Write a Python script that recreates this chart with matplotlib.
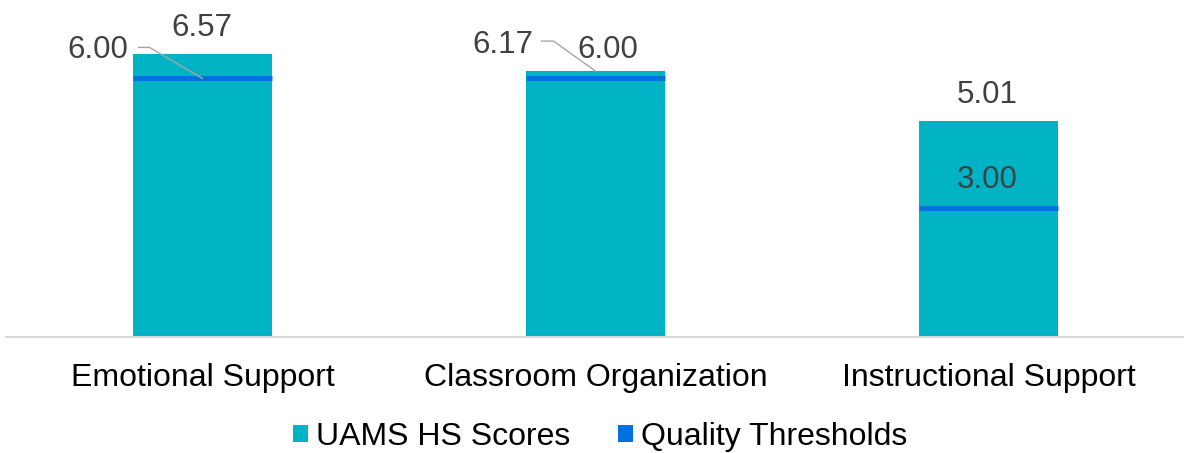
import matplotlib
matplotlib.use("Agg")
import matplotlib.pyplot as plt
from matplotlib.patches import Patch
import numpy as np

plt.rcParams['font.family'] = ['Liberation Sans', 'DejaVu Sans']

categories = ["Emotional Support", "Classroom Organization", "Instructional Support"]
scores = [6.57, 6.17, 5.01]
thresholds = [6.00, 6.00, 3.00]
series_names = ["UAMS HS Scores", "Quality Thresholds"]

BAR_COLOR = "#00B3C4"
LINE_COLOR = "#0070E0"
NUM_COLOR = "#404040"

W, H, DPI = 1184, 453, 100
fig = plt.figure(figsize=(W / DPI, H / DPI), dpi=DPI)
ax = fig.add_axes([6 / W, 1 - 337 / H, (1185 - 6) / W, 337 / H])

x = np.arange(len(categories))
bw = 0.354
ax.bar(x, scores, width=bw, color=BAR_COLOR, zorder=2)
ax.hlines(thresholds, x - bw / 2, x + bw / 2, colors=LINE_COLOR, linewidth=3.6, zorder=3)

ax.set_xlim(-0.5, len(categories) - 0.5)
ax.set_ylim(0, 7.82)
ax.set_yticks([])
ax.set_xticks(x)
ax.set_xticklabels(categories, fontsize=23, color="black")
ax.tick_params(axis='x', length=0, pad=19)
for s in ["top", "right", "left"]:
    ax.spines[s].set_visible(False)
ax.spines["bottom"].set_color("#D9D9D9")
ax.spines["bottom"].set_linewidth(1.5)

fig.canvas.draw()

def label(xv, yv, text, dx, dy=18):
    ax.annotate(text, xy=(xv, yv), xytext=(dx, dy), textcoords='offset pixels',
                ha='center', va='baseline', fontsize=22.5, color=NUM_COLOR, zorder=5)

def leader(xv, yv, offs):
    base = ax.transData.transform((xv, yv))
    pts = np.array([base + np.array(o) for o in offs])
    dpts = ax.transData.inverted().transform(pts)
    ax.plot(dpts[:, 0], dpts[:, 1], color="#A6A6A6", linewidth=1.0, zorder=4, clip_on=False)

# score labels
label(x[0], scores[0], f"{scores[0]:.2f}", -1)
label(x[1], scores[1], f"{scores[1]:.2f}", -93)
leader(x[1], scores[1], [(0, 0), (-42, 30), (-54, 30)])
label(x[2], scores[2], f"{scores[2]:.2f}", -1)

# threshold labels
label(x[0], thresholds[0], f"{thresholds[0]:.2f}", -105, 20)
leader(x[0], thresholds[0], [(0, 0), (-53, 31), (-64, 31)])
label(x[1], thresholds[1], f"{thresholds[1]:.2f}", 12, 20)
label(x[2], thresholds[2], f"{thresholds[2]:.2f}", -1, 20)

handles = [Patch(facecolor=BAR_COLOR, edgecolor='none'),
           Patch(facecolor=LINE_COLOR, edgecolor='none')]
fig.legend(handles, series_names, loc='center', bbox_to_anchor=(600 / W, 1 - 437 / H),
           ncol=2, frameon=False, fontsize=23, handlelength=0.47, handleheight=0.47,
           handletextpad=0.25, columnspacing=1.5, borderpad=0, borderaxespad=0)

fig.savefig("out.png", dpi=DPI)
